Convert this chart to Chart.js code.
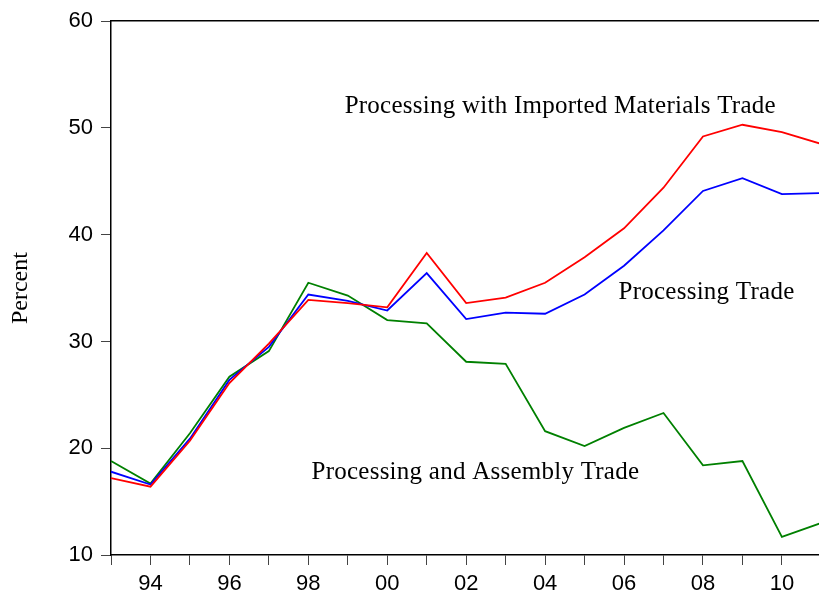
<!DOCTYPE html>
<html>
<head>
<meta charset="utf-8">
<script src="https://cdn.jsdelivr.net/npm/chart.js@4/dist/chart.umd.min.js"></script>
<style>
  body { margin: 0; background: #fff; }
  canvas { display: block; }
</style>
</head>
<body>
<canvas id="myChart" width="819" height="599"></canvas>
<script>
// years 1993 .. 2011
const years = [1993, 1994, 1995, 1996, 1997, 1998, 1999, 2000, 2001, 2002,
    2003, 2004, 2005, 2006, 2007, 2008, 2009, 2010, 2011];

const importedMaterials = [17.2, 16.4, 20.7, 26.1, 29.8, 33.9, 33.6, 33.2, 38.3, 33.6,
    34.1, 35.5, 37.9, 40.6, 44.4, 49.2, 50.3, 49.6, 48.5];
const processingTrade = [17.8, 16.6, 20.9, 26.4, 29.5, 34.4, 33.8, 32.9, 36.4, 32.1,
    32.7, 32.6, 34.4, 37.1, 40.4, 44.1, 45.3, 43.8, 43.9];
const assemblyTrade = [18.8, 16.7, 21.4, 26.7, 29.1, 35.5, 34.3, 32.0, 31.7, 28.1,
    27.9, 21.6, 20.2, 21.9, 23.3, 18.4, 18.8, 11.7, 13.0];

const yTicks = [10, 20, 30, 40, 50, 60];

// text labels written on the plot: [text, year, value]
const notes = [
    ["Processing with Imported Materials Trade", 1998.92, 52.0],
    ["Processing Trade", 2005.86, 34.6],
    ["Processing and Assembly Trade", 1998.08, 17.75]
];

function toPoints(vals) {
    return vals.map((v, i) => ({ x: years[i], y: v }));
}

const notePlugin = {
    id: "notes",
    afterDatasetsDraw(chart) {
        const ctx = chart.ctx;
        const xs = chart.scales.x, ys = chart.scales.y;
        ctx.save();
        ctx.fillStyle = "#000";
        ctx.font = '25px "Liberation Serif"';
        ctx.letterSpacing = "0.25px";
        ctx.textAlign = "left";
        ctx.textBaseline = "middle";
        notes.forEach(n => {
            ctx.fillText(n[0], xs.getPixelForValue(n[1]), ys.getPixelForValue(n[2]));
        });
        ctx.restore();
    }
};

const data = {
    datasets: [{
            label: "Processing with Imported Materials Trade",
            data: toPoints(importedMaterials),
            borderColor: "#ff0000",
        },
        {
            label: "Processing Trade",
            data: toPoints(processingTrade),
            borderColor: "#0000ff",
        },
        {
            label: "Processing and Assembly Trade",
            data: toPoints(assemblyTrade),
            borderColor: "#008000",
        },
    ],
};

const config = {
    type: "line",
    data,
    options: {
        responsive: false,
        animation: false,
        layout: { padding: 0 },
        elements: {
            line: { borderWidth: 1.8, tension: 0, fill: false },
            point: { radius: 0 },
        },
        plugins: {
            legend: { display: false },
            tooltip: { enabled: false },
        },
        scales: {
            x: {
                type: "linear",
                position: "bottom",
                min: 1993,
                max: 2010.94,
                afterFit: (s) => { s.height = 44; },
                border: { display: true, color: "#000", width: 1.5 },
                grid: { drawOnChartArea: false, drawTicks: true, tickLength: 10, tickColor: "#444" },
                ticks: {
                    stepSize: 1,
                    includeBounds: false,
                    autoSkip: false,
                    maxRotation: 0,
                    padding: 6,
                    color: "#000",
                    font: { family: '"Liberation Sans"', size: 22 },
                    callback: (v) => (Number.isInteger(v) && v % 2 === 0) ? String(v % 100).padStart(2, "0") : "",
                },
            },
            xTop: {
                type: "linear",
                position: "top",
                min: 1993,
                max: 2010.94,
                afterFit: (s) => { s.height = 20; },
                border: { display: true, color: "#000", width: 1.5 },
                grid: { display: false },
                ticks: { display: false },
            },
            y: {
                min: 10,
                max: 60,
                afterFit: (s) => { s.width = 111; },
                afterBuildTicks: (s) => { s.ticks = yTicks.map(v => ({ value: v })); },
                border: { display: true, color: "#000", width: 1.5 },
                grid: { drawOnChartArea: false, drawTicks: true, tickLength: 10, tickColor: "#444" },
                ticks: {
                    padding: 8,
                    color: "#000",
                    font: { family: '"Liberation Sans"', size: 22 },
                },
                title: {
                    display: true,
                    text: "Percent",
                    color: "#000",
                    padding: { top: 6, bottom: 0 },
                    font: { family: '"Liberation Serif"', size: 24 },
                },
            },
        },
    },
    plugins: [notePlugin],
};

const myChart = new Chart(document.getElementById("myChart"), config);
</script>
</body>
</html>
